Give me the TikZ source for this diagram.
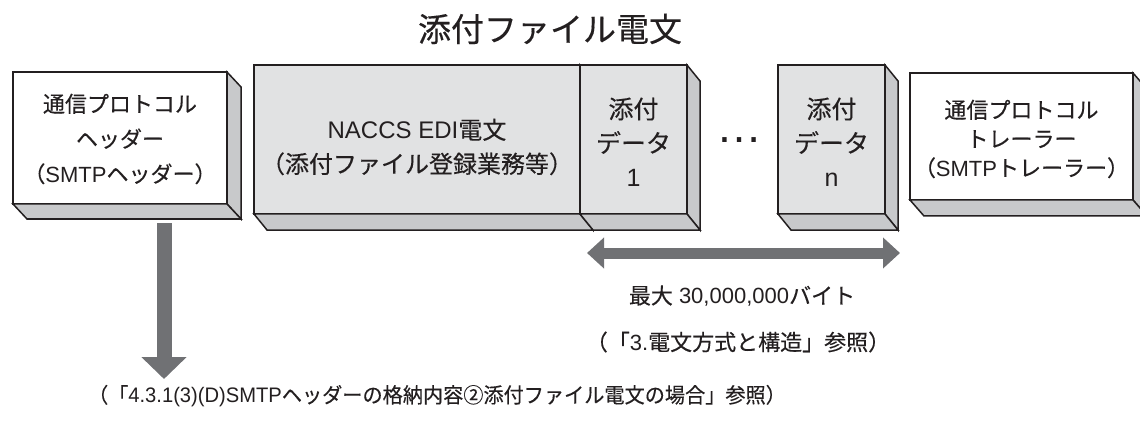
\documentclass[tikz,border=0pt]{standalone}
\usepackage{fontspec}
\setmainfont{Noto Sans CJK JP}[FakeBold=0.3]
\newfontfamily\lat{Liberation Sans}
\usetikzlibrary{arrows.meta}
\definecolor{edge}{HTML}{231F20}
\definecolor{lightface}{HTML}{E1E2E3}
\definecolor{sideface}{HTML}{C8C9CB}
\definecolor{arrowgray}{HTML}{707174}
\tikzset{
  front/.style={draw=edge, line width=1.5pt, inner sep=0pt, outer sep=0pt, rectangle},
  face/.style={draw=edge, fill=sideface, line width=1.5pt, line join=miter},
  boxtext/.style={text=edge, align=center, inner sep=0pt},
  bigarrow/.style={draw=arrowgray, line width=11pt, {Triangle[length=17pt,width=30pt]}-{Triangle[length=17pt,width=30pt]}},
  downarrow/.style={draw=arrowgray, line width=15pt, -{Triangle[length=22pt,width=44pt]}},
  plain/.style={text=edge, inner sep=0pt}
}
\newcommand{\sidefaces}[3]{%
  \draw[face] (#1.north east) -- ++(#2,#3) -- ([shift={(#2,#3)}]#1.south east) -- (#1.south east) -- cycle;
  \draw[face] (#1.south west) -- (#1.south east) -- ([shift={(#2,#3)}]#1.south east) -- ([shift={(#2,#3)}]#1.south west) -- cycle;
}
\begin{document}
\begin{tikzpicture}[x=1pt,y=-1pt]
\useasboundingbox (0,0) rectangle (1140,422);

% title
\node[plain, font=\fontsize{33}{33}\selectfont] (title) at (550,29) {添付ファイル電文};

% header box
\node[front, fill=white, minimum width=214pt, minimum height=132pt] (hdr) at (120,138) {};
\sidefaces{hdr}{14}{15}
\node[boxtext, font=\fontsize{22}{35}\selectfont] (hdrtxt) at (120,139) {通信プロトコル\\ヘッダー\\（{\lat SMTP}ヘッダー）};

% NACCS EDI box
\node[front, fill=lightface, minimum width=326pt, minimum height=149pt] (edi) at (417,139.5) {};
\sidefaces{edi}{13}{16}
\node[boxtext, font=\fontsize{24}{34}\selectfont] (editxt) at (417,147) {{\lat NACCS EDI}電文\\（添付ファイル登録業務等）};

% attachment 1
\node[front, fill=lightface, minimum width=107pt, minimum height=149pt] (att1) at (633.5,139.5) {};
\sidefaces{att1}{13}{16}
\node[boxtext, font=\fontsize{25}{34}\selectfont] (att1txt) at (633.5,142) {添付\\データ\\{\lat 1}};

% dots
\node[plain, font=\fontsize{46}{46}\selectfont\lat] (dots) at (739,140) {…};

% attachment n
\node[front, fill=lightface, minimum width=107pt, minimum height=149pt] (attn) at (831.5,139.5) {};
\sidefaces{attn}{13}{16}
\node[boxtext, font=\fontsize{25}{34}\selectfont] (attntxt) at (831.5,142) {添付\\データ\\{\lat n}};

% trailer box
\node[front, fill=white, minimum width=223pt, minimum height=127pt] (trl) at (1021.5,136.5) {};
\sidefaces{trl}{14}{16}
\node[boxtext, font=\fontsize{22}{29}\selectfont] (trltxt) at (1021.5,139) {通信プロトコル\\トレーラー\\（{\lat SMTP}トレーラー）};

% size arrow
\coordinate (sizeL) at (587,253);
\coordinate (sizeR) at (900,253);
\draw[bigarrow] (sizeL) -- (sizeR);
\node[plain, font=\fontsize{22}{22}\selectfont] (maxsize) at (742,296) {最大{\lat\ 30,000,000}バイト};
\node[plain, font=\fontsize{22}{22}\selectfont] (ref3) at (738,342) {（「{\lat 3.}電文方式と構造」参照）};

% down arrow
\coordinate (dnS) at (164,223);
\coordinate (dnE) at (164,379);
\draw[downarrow] (dnS) -- (dnE);
\node[plain, font=\fontsize{21}{21}\selectfont, xscale=0.96] (ref431) at (437,396) {（「{\lat 4.3.1(3)(D)SMTP}ヘッダーの格納内容②添付ファイル電文の場合」参照）};
\end{tikzpicture}
\end{document}
